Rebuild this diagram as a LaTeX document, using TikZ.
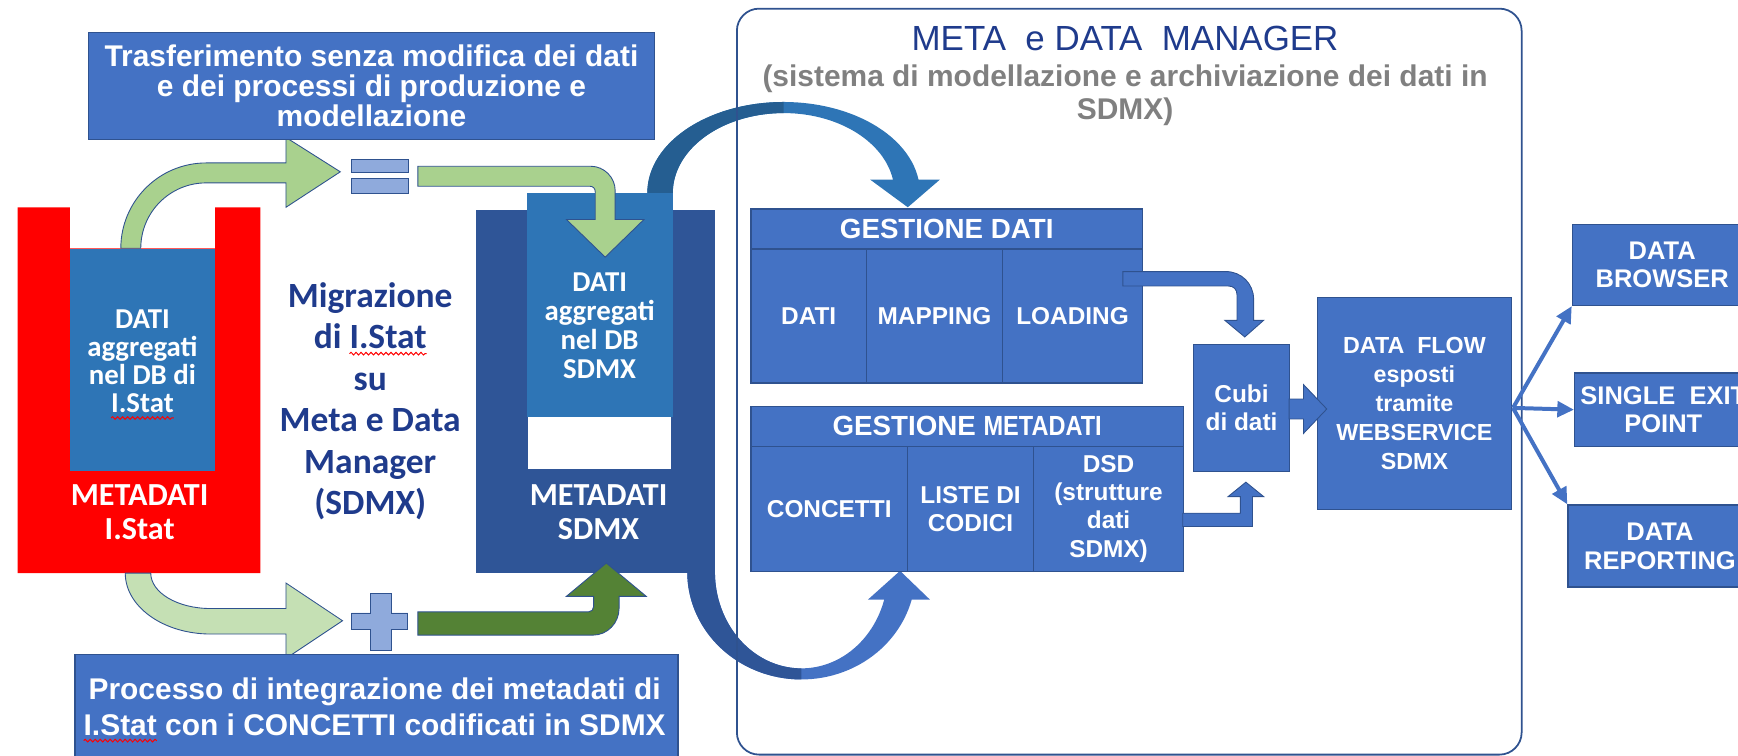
\documentclass[tikz,border=0pt]{standalone}
\usepackage{fontspec}
\setmainfont{Liberation Sans}
\newfontfamily\carl{Carlito}
\usepackage{graphicx}
\usetikzlibrary{arrows.meta,decorations.pathmorphing}
\definecolor{boxblue}{HTML}{4472C4}
\definecolor{boxline}{HTML}{2F528F}
\definecolor{darkblue}{HTML}{2F5597}
\definecolor{midblue}{HTML}{2E75B6}
\definecolor{arcdark}{HTML}{255E91}
\definecolor{navy}{HTML}{1F3B8C}
\definecolor{greenA}{HTML}{A9D18E}
\definecolor{greenB}{HTML}{C5E0B4}
\definecolor{greenC}{HTML}{548235}
\definecolor{signblue}{HTML}{8FAADC}
\definecolor{subgray}{HTML}{808080}
\newsavebox\wavebox
\newcommand\redwave[1]{\sbox\wavebox{#1}\rlap{\tikz[overlay,baseline=0pt]{\draw[red,line width=0.9pt,decorate,decoration={snake,amplitude=1.2pt,segment length=4.5pt}] (0pt,-4.5pt) -- (\the\wd\wavebox,-4.5pt);}}\usebox\wavebox}
\tikzset{
  boxnode/.style={fill=boxblue, draw=boxline, line width=1.2pt, inner sep=0pt, anchor=north west, text=white, align=center},
  celltext/.style={font=\bfseries\fontsize{22}{25.5}\selectfont},
  plainrect/.style={inner sep=0pt, anchor=north west},
  signshape/.style={fill=signblue, draw=boxline, line width=0.8pt},
  shapeline/.style={draw=boxline, line width=0.8pt},
  whitetext/.style={text=white, align=center, inner sep=0pt},
  fanarrow/.style={draw=boxblue, line width=3.6pt, -{Triangle[length=15pt,width=14pt]}}
}
\begin{document}
\begin{tikzpicture}[x=1pt,y=-1pt]
\useasboundingbox (0,0) rectangle (1568,682);

% ---- curved blue arrows (behind) ----
\fill[midblue] plot[domain=180:8.4,samples=60] ({707+123*cos(\x)},{174-82*sin(\x)}) -- (848,162) -- (819,187) -- (785,162) -- (805.6,162) -- plot[domain=9.6:180,samples=60] ({707+100*cos(\x)},{174-72*sin(\x)}) -- cycle;
\fill[arcdark] plot[domain=180:90,samples=40] ({707+123*cos(\x)},{174-82*sin(\x)}) -- plot[domain=90:180,samples=40] ({707+100*cos(\x)},{174-72*sin(\x)}) -- cycle;

\fill[boxblue] plot[domain=180:14.9,samples=60] ({723+103*cos(\x)},{516+97*sin(\x)}) -- (839,541) -- (812,515) -- (783,541) -- (797.7,541) -- plot[domain=16.7:180,samples=60] ({723+78*cos(\x)},{516+87*sin(\x)}) -- cycle;
\fill[darkblue] plot[domain=180:90,samples=40] ({723+103*cos(\x)},{516+97*sin(\x)}) -- plot[domain=90:180,samples=40] ({723+78*cos(\x)},{516+87*sin(\x)}) -- cycle;

% ---- I.Stat block ----
\fill[red] (16,187) -- (63,187) -- (63,224) -- (194,224) -- (194,187) -- (235,187) -- (235,517) -- (16,517) -- cycle;
\node[plainrect, fill=midblue, minimum width=131pt, minimum height=201pt] (ldb) at (63,224) {};
\node[whitetext, font=\carl\bfseries\fontsize{26}{25.5}\selectfont] (ldbtext) at (128.5,326) {DATI\\aggregati\\nel DB di\\\redwave{I.Stat}};
\node[whitetext, font=\carl\bfseries\fontsize{29}{31}\selectfont] (lmeta) at (126,462) {METADATI\\\redwave{I.Stat}};

% ---- SDMX block ----
\node[plainrect, fill=darkblue, minimum width=216pt, minimum height=328pt] (sdmx) at (429,189) {};
\node[plainrect, fill=midblue, minimum width=132pt, minimum height=202pt] (rdb) at (475,174) {};
\node[plainrect, fill=white, minimum width=129pt, minimum height=47pt] (rwhite) at (476,376) {};
\node[whitetext, font=\carl\bfseries\fontsize{26}{26}\selectfont] (rdbtext) at (541,294) {DATI\\aggregati\\nel DB\\SDMX};
\node[whitetext, font=\carl\bfseries\fontsize{29}{31}\selectfont] (rmeta) at (540,462) {METADATI\\SDMX};

% ---- green arrows and signs ----
\filldraw[fill=greenA, shapeline] (109,224) .. controls (109,181.5) and (143.5,147) .. (186,147) -- (258,147) -- (258,124) -- (307,155) -- (258,187) -- (258,165) -- (186,165) .. controls (153.4,165) and (127,191.4) .. (127,224) -- cycle;
\node[plainrect, signshape, minimum width=51pt, minimum height=12pt] (eqa) at (317,143) {};
\node[plainrect, signshape, minimum width=51pt, minimum height=13pt] (eqb) at (317,161) {};
\filldraw[fill=greenA, shapeline] (377,150) -- (533,150) .. controls (545,150) and (555,160) .. (555,172) -- (555,198) -- (581,198) -- (546,232) -- (511,198) -- (537,198) -- (537,173) .. controls (537,170) and (535,168) .. (532,168) -- (377,168) -- cycle;

\filldraw[fill=greenB, shapeline] (113,517) .. controls (113,547.4) and (147.5,572) .. (190,572) -- (258,572) -- (258,594) -- (309,560) -- (258,526) -- (258,549) -- (190,549) .. controls (160.2,549) and (136,534.7) .. (136,517) -- cycle;
\filldraw[signshape] (334,535) -- (353,535) -- (353,553) -- (368,553) -- (368,568) -- (353,568) -- (353,587) -- (334,587) -- (334,568) -- (317,568) -- (317,553) -- (334,553) -- cycle;
\filldraw[fill=greenC, shapeline] (377,552) -- (531,552) .. controls (533.5,552) and (535.5,550) .. (535.5,547.5) -- (535.5,538) -- (511,538) -- (547,508) -- (583,538) -- (558.5,538) -- (558.5,549) .. controls (558.5,562) and (548,573) .. (535,573) -- (377,573) -- cycle;

% ---- text boxes left ----
\node[boxnode, minimum width=511pt, minimum height=96pt, font=\bfseries\fontsize{27}{27}\selectfont] (t1) at (79,29) {Trasferimento senza modifica dei dati\\e dei processi di produzione e\\modellazione};
\node[boxnode, minimum width=544pt, minimum height=100pt] (b1) at (67,590) {};
\node[whitetext, font=\bfseries\fontsize{27}{33}\selectfont] (b1text) at (338,637.5) {Processo di integrazione dei metadati di\\\redwave{I.Stat} con i CONCETTI codificati in SDMX};

\node[text=navy, align=center, inner sep=0pt, font=\carl\bfseries\fontsize{32}{37.5}\selectfont] (migr) at (334,362) {Migrazione\\di \redwave{I.Stat}\\su\\Meta e Data\\Manager\\(SDMX)};

% ---- container ----
\node[plainrect, draw=boxline, line width=1.6pt, rounded corners=20pt, minimum width=708pt, minimum height=673pt] (mdm) at (664,7) {};
\node[text=navy, inner sep=0pt, font=\fontsize{31.5}{36}\selectfont] (title) at (1015,35) {META\ \ e DATA\ \ MANAGER};
\node[text=subgray, align=center, inner sep=0pt, font=\bfseries\fontsize{27}{30}\selectfont] (subtitle) at (1015,86) {(sistema di modellazione e archiviazione dei dati in\\SDMX)};

% ---- gestione dati ----
\node[boxnode, minimum width=353pt, minimum height=36pt, font=\bfseries\fontsize{25}{28}\selectfont] (gdh) at (677,188) {GESTIONE DATI};
\node[boxnode, celltext, minimum width=104pt, minimum height=121pt] (gdati) at (677,224) {DATI};
\node[boxnode, celltext, minimum width=123pt, minimum height=121pt] (gmap) at (781,224) {MAPPING};
\node[boxnode, celltext, minimum width=126pt, minimum height=121pt] (gload) at (904,224) {LOADING};

% ---- gestione metadati ----
\node[boxnode, minimum width=390pt, minimum height=36pt, font=\bfseries\fontsize{25}{28}\selectfont] (gmh) at (677,366) {GESTIONE \scalebox{0.85}[1]{METADATI}};
\node[boxnode, celltext, minimum width=141pt, minimum height=113pt] (gconc) at (677,402) {CONCETTI};
\node[boxnode, celltext, minimum width=114pt, minimum height=113pt] (glist) at (818,402) {LISTE DI\\CODICI};
\node[boxnode, celltext, minimum width=135pt, minimum height=113pt] (gdsd) at (932,402) {DSD\\(strutture\\dati\\SDMX)};

% ---- cubi, data flow ----
\node[boxnode, celltext, minimum width=87pt, minimum height=115pt] (cubi) at (1076,310) {Cubi\\di dati};
\node[boxnode, minimum width=175pt, minimum height=191pt, font=\bfseries\fontsize{21}{26.3}\selectfont] (dflow) at (1188,268) {DATA\ \ FLOW\\esposti\\tramite\\WEBSERVICE\\SDMX};

\filldraw[fill=boxblue, shapeline] (1013,245) -- (1106,245) .. controls (1120,245) and (1131,256) .. (1131,270) -- (1131,289) -- (1140,289) -- (1123,304) -- (1105,289) -- (1116,289) -- (1116,266) .. controls (1116,261) and (1113,258) .. (1108,258) -- (1013,258) -- cycle;
\filldraw[fill=boxblue, shapeline] (1067,463) -- (1119,463) -- (1119,448) -- (1108,448) -- (1124,435) -- (1140,448) -- (1130,448) -- (1130,475) -- (1067,475) -- cycle;
\filldraw[fill=boxblue, shapeline] (1163,360) -- (1176,360) -- (1176,347) -- (1197,369) -- (1176,391) -- (1176,378) -- (1163,378) -- cycle;

% ---- outputs ----
\node[boxnode, minimum width=162pt, minimum height=73pt, font=\bfseries\fontsize{23}{25}\selectfont] (dbrow) at (1418,202) {DATA\\BROWSER};
\node[boxnode, minimum width=160pt, minimum height=66pt, font=\bfseries\fontsize{23}{25}\selectfont] (sep) at (1420,336) {SINGLE\ \ EXIT\\POINT};
\node[boxnode, minimum width=166pt, minimum height=74pt, font=\bfseries\fontsize{23}{26}\selectfont] (drep) at (1414,455) {DATA\\REPORTING};

\coordinate (fan) at (1365,368);
\draw[fanarrow] (fan) -- (dbrow.south west);
\draw[fanarrow] (fan) -- (sep.west);
\draw[fanarrow] (fan) -- (drep.north west);
\end{tikzpicture}
\end{document}
